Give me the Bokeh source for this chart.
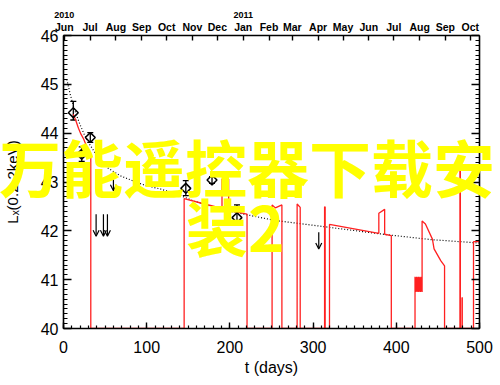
import numpy as np
from bokeh.plotting import figure
from bokeh.layouts import column
from bokeh.models import (Range1d, LinearAxis, FixedTicker, SingleIntervalTicker,
                          ColumnDataSource, Whisker, TeeHead, Arrow, OpenHead, Div,
                          CustomJSTickFormatter)
from bokeh.embed import file_html
from bokeh.resources import INLINE

# ---------------- data ----------------
month_days = [1, 32, 63, 94, 124, 155, 185, 216, 247, 275, 306, 336, 367, 397, 428, 459, 489]
month_labels = ["Jun", "Jul", "Aug", "Sep", "Oct", "Nov", "Dec", "Jan", "Feb", "Mar",
                "Apr", "May", "Jun", "Jul", "Aug", "Sep", "Oct"]
year_days = [1, 216]
year_labels = ["2010", "2011"]

# dotted model curve
model_days = [4, 8, 12, 16, 20, 25, 30, 40, 52, 68, 84, 100, 116, 135, 158, 194, 255, 311, 389, 442, 500]
model_lx = [45.1, 44.8, 44.55, 44.35, 44.17, 43.97, 43.81, 43.54, 43.30, 43.13, 43.02, 42.92,
            42.86, 42.76, 42.6, 42.42, 42.21, 42.09, 41.92, 41.82, 41.75]

# red light curve (40 = off scale / gap)
red_days = [11.8, 15, 18, 21, 24.2, 28, 32.8, 32.8,
            145, 145, 165, 190.5, 190.5, 198.5, 198.5, 220.6, 220.6,
            250.7, 250.7, 254.7, 262.5, 262.5,
            280.8, 280.8, 284.5, 284.5,
            313.8, 313.8, 314.5, 314.5,
            319.7, 319.7, 379, 379, 386, 386, 394, 394,
            422.5, 422.5, 423.0, 423.5, 424.0, 424.5, 425.0, 425.5, 426.0, 426.5, 427.0,
            427.5, 428.0, 428.5, 429.0, 429.5, 430.0, 430.5, 431.0,
            431.0, 435, 443.4, 445.4, 453.4, 458, 458,
            476.5, 476.5, 477, 477, 479, 479, 479.3, 479.3,
            492.8, 492.8, 500]
red_lx = [44.39, 44.25, 44.1, 43.98, 43.88, 43.72, 43.54, 40,
          40, 42.66, 42.57, 42.46, 43.06, 43.06, 42.42, 42.34, 40,
          40, 42.53, 42.47, 42.53, 40,
          40, 42.55, 42.48, 40,
          40, 42.49, 42.49, 40,
          40, 42.13, 41.95, 42.36, 42.44, 41.93, 41.90, 40,
          40, 41.06, 40.75, 41.05, 40.76, 41.06, 40.75, 41.05, 40.76, 41.06, 40.75,
          41.05, 40.76, 41.06, 40.75, 41.05, 40.76, 41.06, 40.75,
          42.2, 42.14, 41.83, 41.63, 41.39, 41.28, 40,
          40, 43.5, 43.5, 40, 40, 40.63, 40.63, 40,
          40, 41.78, 41.78]

# detections with error bars
det_days = [11.8, 21.9, 32.2, 147, 178.5, 208.5]
det_lx = [44.42, 43.57, 43.91, 42.87, 43.04, 42.27]
det_hi = [44.65, 43.72, 44.01, 43.03, 43.11, 42.53]
det_lo = [44.27, 43.42, 43.81, 42.72, 42.97, 42.16]

# upper limits
ul_days = [39.2, 48.0, 52.8, 60.0, 306.8]
ul_top = [42.34, 42.34, 42.34, 43.05, 41.97]
ul_tip = [41.89, 41.89, 41.89, 42.82, 41.63]

watermark1 = "万能遥控器下载安"
watermark2 = "装2"

# ---------------- figure ----------------
FONT = "Liberation Sans"
W, H = 500, 385

p = figure(width=W, height=H, output_backend="svg", toolbar_location=None,
           x_range=Range1d(0, 500), y_range=Range1d(40, 46),
           x_axis_location=None, y_axis_location=None,
           min_border_left=63, min_border_right=21, min_border_top=35, min_border_bottom=57)
p.outline_line_color = None
p.xgrid.visible = False
p.ygrid.visible = False
p.background_fill_color = "white"
p.border_fill_color = "white"


def style(ax, major_in, minor_in):
    ax.axis_line_color = "black"
    ax.axis_line_width = 1.6
    ax.major_tick_line_color = "black"
    ax.major_tick_line_width = 1.4
    ax.minor_tick_line_color = "black"
    ax.minor_tick_line_width = 1.2
    ax.major_tick_in = major_in
    ax.major_tick_out = 0
    ax.minor_tick_in = minor_in
    ax.minor_tick_out = 0
    ax.major_label_text_font = FONT
    ax.major_label_text_color = "black"
    ax.axis_label_text_font = FONT
    ax.axis_label_text_font_style = "normal"
    ax.axis_label_text_color = "black"


bottom = LinearAxis(ticker=SingleIntervalTicker(interval=100, num_minor_ticks=10),
                    axis_label="t (days)")
style(bottom, 6, 3)
bottom.major_label_text_font_size = "16px"
bottom.major_label_standoff = 12
bottom.axis_label_text_font_size = "16px"
bottom.axis_label_standoff = 3
p.add_layout(bottom, "below")

left = LinearAxis(ticker=SingleIntervalTicker(interval=1, num_minor_ticks=10),
                  axis_label="Lₓ(0.2-2keV)")
style(left, 8, 4)
left.major_label_text_font_size = "16px"
left.major_label_standoff = 5
left.axis_label_text_font_size = "15px"
left.axis_label_standoff = 17
p.add_layout(left, "left")

right = LinearAxis(ticker=SingleIntervalTicker(interval=1, num_minor_ticks=10),
                   formatter=CustomJSTickFormatter(code="return ''"))
style(right, 8, 4)
right.major_label_standoff = 0
p.add_layout(right, "right")

top = LinearAxis(ticker=FixedTicker(ticks=month_days, minor_ticks=[]),
                 major_label_overrides={d: m for d, m in zip(month_days, month_labels)})
style(top, 5, 0)
top.major_label_text_font_size = "10.5px"
top.major_label_text_font_style = "bold"
top.major_label_standoff = 3
p.add_layout(top, "above")

years = LinearAxis(ticker=FixedTicker(ticks=year_days, minor_ticks=[]),
                   major_label_overrides={d: y for d, y in zip(year_days, year_labels)})
style(years, 0, 0)
years.axis_line_color = None
years.major_tick_line_color = None
years.major_label_text_font_size = "9px"
years.major_label_text_font_style = "bold"
years.major_label_standoff = 0
p.add_layout(years, "above")

# model curve
p.line(model_days, model_lx, line_color="black", line_width=1.2, line_dash="1 2")

# red light curve
p.line(red_days, red_lx, line_color="#ff2020", line_width=1.3)

# error bars and diamonds
det_src = ColumnDataSource(dict(x=det_days, y=det_lx, hi=det_hi, lo=det_lo))
p.add_layout(Whisker(source=det_src, base="x", upper="hi", lower="lo", dimension="height",
                     line_color="black", line_width=1.3,
                     upper_head=TeeHead(size=6, line_color="black", line_width=1.3),
                     lower_head=TeeHead(size=6, line_color="black", line_width=1.3)))
p.scatter("x", "y", source=det_src, marker="square", angle=np.pi / 4, size=7,
          fill_color=None, line_color="black", line_width=1.5)

# upper limit arrows
ul_src = ColumnDataSource(dict(x=ul_days, y0=ul_top, y1=ul_tip))
p.add_layout(Arrow(source=ul_src, x_start="x", y_start="y0", x_end="x", y_end="y1",
                   line_color="black", line_width=1.2,
                   end=OpenHead(size=6, line_color="black", line_width=1.2)))

# ---------------- watermark overlay (HTML text over the whole canvas) ----------------
span_style = ("position:absolute;font-family:'Noto Sans CJK SC';font-weight:bold;"
              "font-size:62px;line-height:52px;color:#ffff00;white-space:nowrap;")
wm_html = (
    f'<div style="position:relative;width:{W}px;height:{H}px;">'
    f'<span style="{span_style}left:-8px;top:135px;width:{W}px;text-align:center;">{watermark1}</span>'
    f'<span style="{span_style}left:181px;top:194px;">{watermark2}</span>'
    '</div>'
)
wm = Div(text=wm_html, width=W, height=H,
         styles={"position": "absolute", "top": "0px", "left": "0px", "pointer-events": "none"})

layout = column(p, wm, styles={"position": "relative"})
open("out.html", "w").write(file_html(layout, INLINE))
